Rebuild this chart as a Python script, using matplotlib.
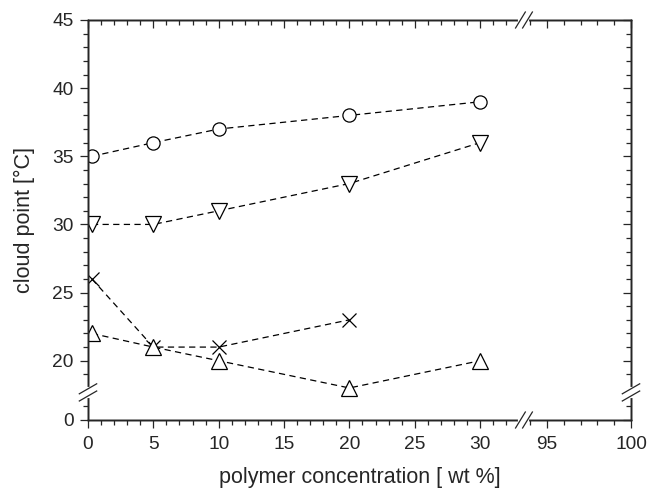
import numpy as np
import matplotlib
matplotlib.use('Agg')
import matplotlib.pyplot as plt
from matplotlib.lines import Line2D

plt.rcParams['font.family'] = ['Liberation Sans', 'DejaVu Sans']

# data
conc = [0.3, 5, 10, 20, 30]
circles = [35, 36, 37, 38, 39]
tri_down = [30, 30, 31, 33, 36]
conc_x = [0.3, 5, 10, 20]
crosses = [26, 21, 21, 23]
tri_up = [22, 21, 20, 18, 20]

x_major = [0, 5, 10, 15, 20, 25, 30, 95, 100]
x_minor = [i for i in range(1, 33) if i % 5 != 0] + [94, 96, 97, 98, 99]
y_major = [0, 20, 25, 30, 35, 40, 45]
y_minor = [1, 19] + [i for i in range(21, 45) if i % 5 != 0]

# broken axis mappings (piecewise linear)
xs_b = [0, 33.35, 93.63, 100]
xu_b = [0, 33.35, 33.37, 41.55]
ys_b = [0, 2, 17.7, 45]
yu_b = [0, 2, 2.05, 29.35]

def fx(v): return np.interp(v, xs_b, xu_b)
def ix(v): return np.interp(v, xu_b, xs_b)
def fy(v): return np.interp(v, ys_b, yu_b)
def iy(v): return np.interp(v, yu_b, ys_b)

ink = '#262626'
fig = plt.figure(figsize=(6.51, 4.91), dpi=100)
ax = fig.add_axes([88/651, 1-420/491, 543/651, 400/491])
ax.set_xscale('function', functions=(fx, ix))
ax.set_yscale('function', functions=(fy, iy))

style = dict(color='black', linestyle='--', dashes=(5, 3.5), linewidth=0.9,
             markerfacecolor='white', markeredgecolor='black', markeredgewidth=0.9)
ax.plot(conc, circles, marker='o', markersize=9.5, **style)
ax.plot(conc, tri_down, marker='v', markersize=11, **style)
ax.plot(conc_x, crosses, marker='x', markersize=10, **style)
ax.plot(conc, tri_up, marker='^', markersize=11, **style)

ax.set_xlim(0, 100)
ax.set_ylim(0, 45)

ax.set_xticks(x_major)
ax.set_xticks(x_minor, minor=True)
ax.set_yticks(y_major)
ax.set_yticks(y_minor, minor=True)
ax.tick_params(which='both', direction='out', colors=ink, labelsize=13.8,
               top=False, right=False)
ax.tick_params(which='major', length=6, width=0.9)
ax.tick_params(which='minor', length=3.5, width=0.9)
ax.tick_params(axis='x', which='major', pad=5.5)
ax.tick_params(axis='y', which='major', pad=4.5)
for s in ax.spines.values():
    s.set_color(ink)
    s.set_linewidth(1.0)

# top and right ticks pointing inward
axt = ax.twiny()
axt.set_xscale('function', functions=(fx, ix))
axt.set_xlim(0, 100)
axt.set_xticks(x_major)
axt.set_xticks(x_minor, minor=True)
axt.tick_params(which='both', direction='in', colors=ink, labeltop=False)
axt.tick_params(which='major', length=6, width=0.9)
axt.tick_params(which='minor', length=3.5, width=0.9)
axr = ax.twinx()
axr.set_yscale('function', functions=(fy, iy))
axr.set_ylim(0, 45)
axr.set_yticks(y_major)
axr.set_yticks(y_minor, minor=True)
axr.tick_params(which='both', direction='in', colors=ink, labelright=False)
axr.tick_params(which='major', length=6, width=0.9)
axr.tick_params(which='minor', length=3.5, width=0.9)
for a in (axt, axr):
    for s in a.spines.values():
        s.set_color(ink)
        s.set_linewidth(1.0)

ax.set_xlabel('polymer concentration [ wt %]', fontsize=15.5, color=ink, labelpad=10)
ax.set_ylabel('cloud point [°C]', fontsize=15.5, color=ink, labelpad=12)

# break marks
xb = (fx(33.35) + fx(93.63)) / 2 / xu_b[-1]
yb = (fy(2) + fy(17.7)) / 2 / yu_b[-1]
for yy in (0, 1):
    fig.add_artist(Line2D([xb-0.0065, xb+0.0065], [yy, yy], transform=ax.transAxes,
                          color='white', linewidth=3, zorder=5))
    for c in (xb-0.0065, xb+0.0065):
        fig.add_artist(Line2D([c-0.009, c+0.009], [yy-0.02, yy+0.02], transform=ax.transAxes,
                              color=ink, linewidth=0.9, zorder=6))
for xx in (0, 1):
    fig.add_artist(Line2D([xx, xx], [yb-0.009, yb+0.009], transform=ax.transAxes,
                          color='white', linewidth=3, zorder=5))
    for c in (yb-0.009, yb+0.009):
        fig.add_artist(Line2D([xx-0.016, xx+0.016], [c-0.0125, c+0.0125], transform=ax.transAxes,
                              color=ink, linewidth=0.9, zorder=6))

plt.savefig('out.png', dpi=100)
plt.close()
